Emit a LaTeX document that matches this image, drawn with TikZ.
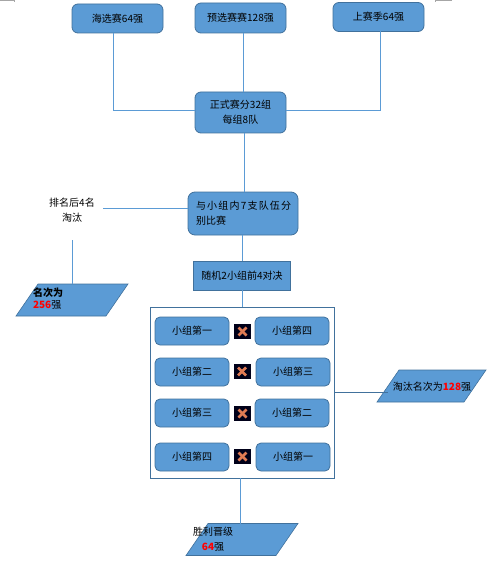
\documentclass[tikz,border=0pt]{standalone}
\usepackage{fontspec}
\setmainfont{Noto Sans CJK SC}
\newfontfamily\widefont[LetterSpace=12]{Noto Sans CJK SC}
\usetikzlibrary{shapes.geometric,calc,positioning}
\definecolor{boxblue}{HTML}{5B9BD5}
\definecolor{edgeblue}{HTML}{41719C}
\definecolor{markred}{HTML}{FF0000}
\definecolor{crossred}{HTML}{E07B54}
\newcommand{\passfill}[1]{\phantom{\rule{#1pt}{32pt}}}
\tikzset{
  stagebox/.style={draw=edgeblue, fill=boxblue, line width=0.8pt, rounded corners=6pt, inner sep=0pt, outer sep=0pt, align=center, font=\fontsize{10}{15}\selectfont, text=black},
  groupbox/.style={stagebox, minimum width=74, minimum height=28, rounded corners=5pt},
  passbox/.style={draw=edgeblue, fill=boxblue, line width=0.6pt, trapezium, trapezium left angle=55.5, trapezium right angle=124.5, inner sep=0pt, outer sep=0pt},
  plaintext/.style={inner sep=0pt, outer sep=0pt, align=center, font=\fontsize{10}{15}\selectfont, text=black},
  vsicon/.style={fill=black!90!blue, minimum width=17, minimum height=15, inner sep=0pt, path picture={
      \draw[crossred, line width=2.6pt] ($(path picture bounding box.center)+(-4,-4)$) -- ++(8,8);
      \draw[crossred, line width=2.6pt] ($(path picture bounding box.center)+(-4,4)$) -- ++(8,-8);}},
  link/.style={draw=boxblue, line width=0.9pt},
  darklink/.style={draw=edgeblue, line width=0.8pt}
}
\begin{document}
\begin{tikzpicture}[x=1pt,y=-1pt]
  \useasboundingbox (0,0) rectangle (492,572);
  % page corner marks
  \draw[black!35, line width=0.6pt] (0,0.5) -- (14.5,0.5) -- (14.5,2);
  \draw[black!35, line width=0.6pt] (452,0.5) -- (435.5,0.5) -- (435.5,2);
  % qualifying rounds
  \node[stagebox, minimum width=91, minimum height=29] (haixuan) at (117.5,18.5) {海选赛64强};
  \node[stagebox, minimum width=91, minimum height=30] (yuxuan) at (240.5,18) {预选赛赛128强};
  \node[stagebox, minimum width=91, minimum height=29] (shangji) at (378.5,17) {上赛季64强};
  \node[stagebox, minimum width=91, minimum height=41] (zhengshi) at (240.5,112.5) {正式赛分32组\\每组8队};
  \draw[link] ([xshift=-4.5]haixuan.south) |- ([yshift=2.5]zhengshi.west);
  \draw[link] ([xshift=2.5]yuxuan.south) -- ([xshift=2.5]zhengshi.north);
  \draw[link] ([xshift=2]shangji.south) |- ([yshift=2.5]zhengshi.east);
  % group stage
  \node[stagebox, minimum width=110, minimum height=43, rounded corners=7pt, text width=94, align=left] (xiaozu) at (243,213.5) {{\widefont 与小组内7支队伍分}\\别比赛};
  \node[plaintext, minimum width=62, minimum height=60] (paiming) at (72,210) {排名后4名\\淘汰};
  \node[passbox] (mingci) at (72,300) {\passfill{68}};
  \node[plaintext, anchor=north west, align=left, font=\fontsize{10}{12}\selectfont] (mingcitext) at (33,288) {\textbf{名次为}\\\textcolor{markred}{\textbf{256}}强};
  \draw[link] (xiaozu.north -| zhengshi.south) ++(3.5,0) -- ([xshift=3.5]zhengshi.south);
  \draw[link] ([yshift=2]paiming.east) -- ([yshift=2]paiming.east -| xiaozu.west);
  \draw[link] (paiming.south) -- (paiming.south |- mingci.north);
  % random draw
  \node[stagebox, rounded corners=0pt, minimum width=97, minimum height=29] (suiji) at (242,275.5) {随机2小组前4对决};
  \draw[link] (xiaozu.south -| suiji.north) -- (suiji.north);
  \node[draw=edgeblue, line width=0.8pt, minimum width=184, minimum height=171, inner sep=0pt, outer sep=0pt] (duijue) at (242,392.5) {};
  \draw[link] (suiji.south) -- (duijue.north);
  % pairings
  \node[stagebox, groupbox] (ayi) at (192,331) {小组第一};
  \node[stagebox, groupbox] (asi) at (292,331) {小组第四};
  \node[stagebox, groupbox] (ber) at (192,372) {小组第二};
  \node[stagebox, groupbox] (bsan) at (293,372) {小组第三};
  \node[stagebox, groupbox] (csan) at (192,413) {小组第三};
  \node[stagebox, groupbox] (cer) at (292,413) {小组第二};
  \node[stagebox, groupbox] (dsi) at (192,457) {小组第四};
  \node[stagebox, groupbox] (dyi) at (293,457) {小组第一};
  \node[vsicon] (vsa) at (242.5,331.5) {};
  \node[vsicon] (vsb) at (242,371.5) {};
  \node[vsicon] (vsc) at (242.5,413.5) {};
  \node[vsicon] (vsd) at (242.5,456.5) {};
  % results
  \node[passbox] (taotai) at (431.5,386) {\passfill{65}};
  \node[plaintext] (taotaitext) at (432,387) {淘汰名次为\textcolor{markred}{\textbf{128}}强};
  \draw[darklink] (duijue.east) -- (duijue.east -| taotai.west);
  \node[passbox] (shengli) at (242,539.5) {\passfill{68}};
  \node[plaintext, anchor=north west, align=center] (shenglitext) at (193,527) {胜利晋级\\\textcolor{markred}{\textbf{64}}强};
  \draw[link] ([xshift=-2]duijue.south) -- ([xshift=-2]duijue.south |- shengli.north);
\end{tikzpicture}
\end{document}
